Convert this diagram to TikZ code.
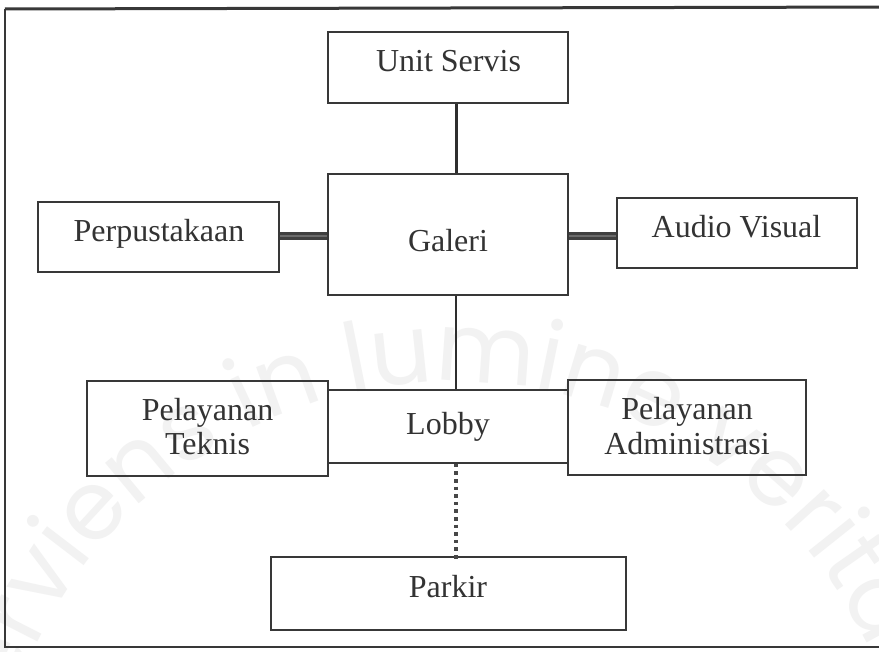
\documentclass[tikz,border=0pt]{standalone}
\usepackage{fontspec}
\setmainfont{Liberation Serif}
\newfontfamily\wmfont{Poppins}
\usetikzlibrary{decorations.text}
\begin{document}
\begin{tikzpicture}[x=1pt,y=-1pt,
  ink/.style={draw=black!78},
  box/.style={ink, line width=1.6pt, rectangle, inner sep=0pt, fill=none},
  lbl/.style={text=black!80, font=\fontsize{32}{33}\selectfont, anchor=base, inner sep=0pt},
  stem/.style={draw=black!82, line width=3pt},
  bar/.style={draw=black!75, double=black!58, double distance=2.6pt, line width=2.5pt},
  dots/.style={draw=black!72, line width=3.6pt, dash pattern=on 3.6pt off 4pt}
]
\useasboundingbox (0,0) rectangle (879,652);
\fill[white] (0,0) rectangle (879,652);

% faint seal lettering in the background (angles in page orientation)
\begin{scope}
  \clip (0,0) rectangle (879,652);
  \coordinate (sealC) at (452,842);
  \path[decorate, decoration={text along path, text align=center,
      text={|\wmfont\fontsize{96}{96}\selectfont\color{black!5}|serviens in lumine veritatis}}]
    ([shift={(205:460pt)}]sealC) arc[start angle=205, end angle=-25, radius=460pt];
\end{scope}

% outer frame, running past the right edge
\begin{scope}
  \clip (0,0) rectangle (879,652);
  \draw[ink, line width=2pt] (5,9) -- (5,647) -- (900,647);
  \draw[ink, line width=3pt] (5,9) -- (900,7);
\end{scope}

% boxes
\node[box, minimum width=240pt, minimum height=71pt] (us)    at (448,67.5)  {};
\node[box, minimum width=240pt, minimum height=121pt] (gal)  at (448,234.5) {};
\node[box, minimum width=241pt, minimum height=70pt] (perp)  at (158.5,237) {};
\node[box, minimum width=240pt, minimum height=70pt] (av)    at (737,233)   {};
\node[box, minimum width=241pt, minimum height=95pt] (pt)    at (207.5,428.5) {};
\node[box, minimum width=240pt, minimum height=73pt] (lobby) at (448,426.5) {};
\node[box, minimum width=238pt, minimum height=95pt] (pa)    at (687,427.5) {};
\node[box, minimum width=355pt, minimum height=73pt] (park)  at (448.5,593.5) {};

% labels
\node[lbl] (usT)    at (448.5,72)  {Unit Servis};
\node[lbl] (galT)   at (448,252)   {Galeri};
\node[lbl] (perpT)  at (159,242)   {Perpustakaan};
\node[lbl] (avT)    at (736.5,238) {Audio Visual};
\node[lbl] (ptT1)   at (207.5,421) {Pelayanan};
\node[lbl] (ptT2)   at (207.5,455) {Teknis};
\node[lbl] (lobbyT) at (448,435)   {Lobby};
\node[lbl] (paT1)   at (687,420)   {Pelayanan};
\node[lbl] (paT2)   at (687,455)   {Administrasi};
\node[lbl] (parkT)  at (448,597)   {Parkir};

% connectors
\draw[stem] (us.south -| 456,0) -- (gal.north -| 456,0);
\draw[stem, line width=2.6pt] (gal.south -| 456,0) -- (lobby.north -| 456,0);
\draw[bar] (perp.east |- 0,236) -- (gal.west |- 0,236);
\draw[bar] (gal.east |- 0,236) -- (av.west |- 0,236);
\draw[dots] (lobby.south -| 456,0) -- ([yshift=-5pt]park.north -| 456,0);
\end{tikzpicture}
\end{document}
